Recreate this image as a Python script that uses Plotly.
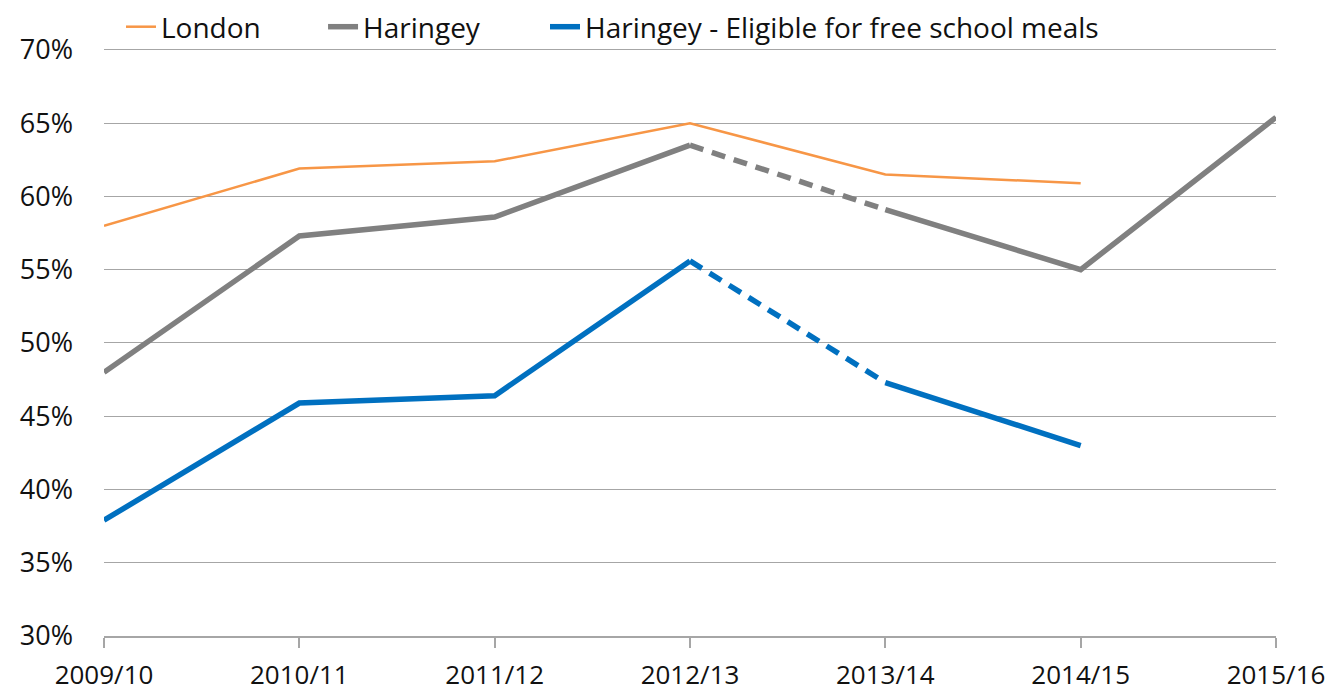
import plotly.graph_objects as go

years = ["2009/10", "2010/11", "2011/12", "2012/13", "2013/14", "2014/15", "2015/16"]
london = [58.0, 61.9, 62.4, 65.0, 61.5, 60.9, None]
haringey = [48.0, 57.3, 58.6, 63.5, 59.1, 55.0, 65.4]
haringey_fsm = [37.9, 45.9, 46.4, 55.6, 47.3, 43.0, None]
tick_vals = [30, 35, 40, 45, 50, 55, 60, 65, 70]
tick_text = ["30%", "35%", "40%", "45%", "50%", "55%", "60%", "65%", "70%"]

ORANGE = "#F79646"
GREY = "#808080"
BLUE = "#0070C0"
FONT = "Open Sans"
TXT = "#111111"
DASH = "14px,9px"

fig = go.Figure()

fig.add_trace(go.Scatter(x=years, y=london, mode="lines", name="London",
                         line=dict(color=ORANGE, width=2.5), legend="legend"))

# Haringey: solid, dashed segment 2012/13 -> 2013/14, solid again
fig.add_trace(go.Scatter(x=years[:4], y=haringey[:4], mode="lines", name="Haringey",
                         line=dict(color=GREY, width=5.5), legend="legend2"))
fig.add_trace(go.Scatter(x=years[3:5], y=haringey[3:5], mode="lines", showlegend=False,
                         line=dict(color=GREY, width=5.5, dash=DASH)))
fig.add_trace(go.Scatter(x=years[4:], y=haringey[4:], mode="lines", showlegend=False,
                         line=dict(color=GREY, width=5.5)))

fig.add_trace(go.Scatter(x=years[:4], y=haringey_fsm[:4], mode="lines",
                         name="Haringey - Eligible for free school meals",
                         line=dict(color=BLUE, width=5.5), legend="legend3"))
fig.add_trace(go.Scatter(x=years[3:5], y=haringey_fsm[3:5], mode="lines", showlegend=False,
                         line=dict(color=BLUE, width=5.5, dash=DASH)))
fig.add_trace(go.Scatter(x=years[4:6], y=haringey_fsm[4:6], mode="lines", showlegend=False,
                         line=dict(color=BLUE, width=5.5)))

leg_common = dict(orientation="h", yref="container", y=1 - 19 / 698, yanchor="middle",
                  xanchor="left", font=dict(family=FONT, size=28, color=TXT),
                  bgcolor="rgba(0,0,0,0)", itemwidth=30)

fig.update_layout(
    width=1336, height=698,
    margin=dict(l=96, r=68, t=39, b=70, autoexpand=False),
    paper_bgcolor="white", plot_bgcolor="white",
    font=dict(family=FONT, size=26, color=TXT),
    showlegend=True,
    legend=dict(x=0.0145, **leg_common),
    legend2=dict(x=0.1869, **leg_common),
    legend3=dict(x=0.3763, **leg_common),
    xaxis=dict(type="category", categoryorder="array", categoryarray=years,
               range=[0, 6], showgrid=False, zeroline=False,
               showline=True, linecolor="#A6A6A6", linewidth=1.5,
               ticks="outside", ticklen=10, tickcolor="#A6A6A6", tickwidth=1.5,
               ticklabelstandoff=5,
               tickfont=dict(family=FONT, size=26, color=TXT)),
    yaxis=dict(range=[30, 70.2], tickvals=tick_vals, ticktext=tick_text,
               showgrid=True, gridcolor="#A6A6A6", gridwidth=1.3,
               zeroline=False, showline=False, ticks="",
               ticklabelstandoff=30,
               tickfont=dict(family=FONT, size=27, color=TXT)),
)

fig.write_html("out.html")
